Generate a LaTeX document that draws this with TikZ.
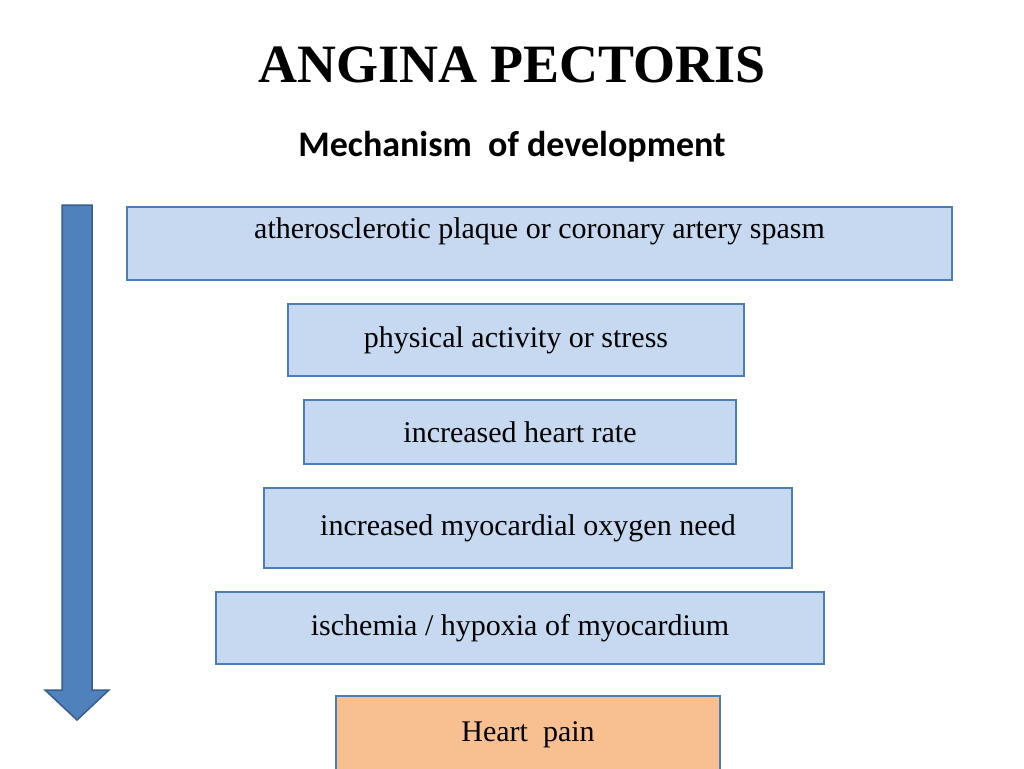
\documentclass[tikz,border=0pt]{standalone}
\usepackage{fontspec}
\setmainfont{Liberation Serif}
\newfontfamily\carl{Carlito}
\begin{document}
\begin{tikzpicture}[x=1pt,y=-1pt,
  bx/.style={draw=myedge,line width=1.5pt,fill=myfill,inner sep=0pt,font=\fontsize{30}{34}\selectfont},
  txt/.style={font=\fontsize{30}{34}\selectfont,inner sep=0pt}]
\definecolor{myfill}{HTML}{C6D9F1}
\definecolor{myedge}{HTML}{4A7EBB}
\definecolor{myorange}{HTML}{F8C090}
\definecolor{myarrow}{HTML}{4F81BD}
\definecolor{myarrowedge}{HTML}{385D8A}
\useasboundingbox (0,0) rectangle (1024,768);
\node[inner sep=0pt,font=\fontsize{54}{60}\selectfont\bfseries] (title) at (512,65) {ANGINA PECTORIS};
\node[inner sep=0pt,font=\carl\fontsize{36}{40}\selectfont\bfseries] (sub) at (512,147) {Mechanism\ \ of development};
\node[bx,minimum width=825,minimum height=73] (b1) at (539.5,243.5) {};
\node[txt] (t1) at (539.5,231) {atherosclerotic plaque or coronary artery spasm};
\node[bx,minimum width=456,minimum height=72] (b2) at (516,340) {physical activity or stress};
\node[bx,minimum width=432,minimum height=64] (b3) at (520,432) {increased heart rate};
\node[bx,minimum width=528,minimum height=80] (b4) at (528,528) {increased myocardial oxygen need};
\node[bx,minimum width=608,minimum height=72] (b5) at (520,628) {ischemia / hypoxia of myocardium};
\node[bx,fill=myorange,minimum width=384,minimum height=80,text depth=0pt] (b6) at (528,736) {};
\node[txt] (t6) at (528,735) {Heart\ \ pain};
\draw[myarrowedge,line width=1.5pt,fill=myarrow] (62,205) -- (92,205) -- (92,690) -- (109,690) -- (77,720) -- (45,690) -- (62,690) -- cycle;
\end{tikzpicture}
\end{document}
